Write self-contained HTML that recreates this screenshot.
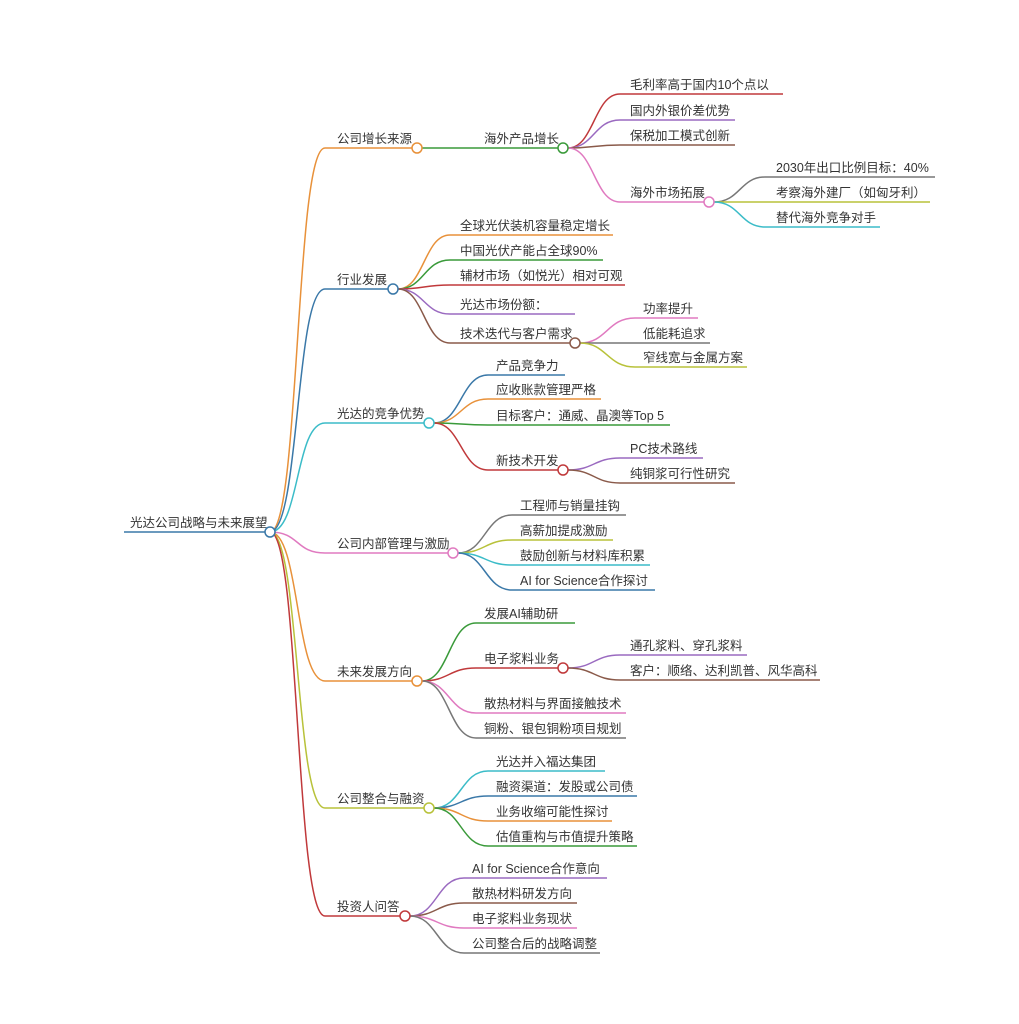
<!DOCTYPE html>
<html><head><meta charset="utf-8"><style>
html,body{margin:0;padding:0;background:#fff;}
svg{display:block;}
text{font-family:"Liberation Sans","Noto Sans CJK SC",sans-serif;font-size:12.5px;fill:#333;}
path{fill:none;stroke-width:1.5;}
circle{fill:#fff;stroke-width:1.5;}
</style></head><body>
<svg width="1019" height="1024" viewBox="0 0 1019 1024">
<!-- root -->
<path d="M124,532 H265" stroke="#3a78a8"/>
<text x="130" y="527">光达公司战略与未来展望</text>

<!-- level 1 edges -->
<path d="M270,532 C300,532 295,148 325,148 H412" stroke="#e8913a"/>
<path d="M270,532 C300,532 295,289 325,289 H388" stroke="#3a78a8"/>
<path d="M270,532 C300,532 295,423 325,423 H424" stroke="#3bbcc8"/>
<path d="M270,532 C300,532 295,553 325,553 H448" stroke="#e07ac0"/>
<path d="M270,532 C300,532 295,681 325,681 H412" stroke="#e8913a"/>
<path d="M270,532 C300,532 295,808 325,808 H424" stroke="#b8c23a"/>
<path d="M270,532 C300,532 295,916 325,916 H400" stroke="#c0393b"/>
<text x="337" y="143">公司增长来源</text>
<text x="337" y="284">行业发展</text>
<text x="337" y="418">光达的竞争优势</text>
<text x="337" y="548">公司内部管理与激励</text>
<text x="337" y="676">未来发展方向</text>
<text x="337" y="803">公司整合与融资</text>
<text x="337" y="911">投资人问答</text>

<!-- 公司增长来源 -->
<path d="M422,148 H558" stroke="#3a9a3a"/>
<text x="484" y="143">海外产品增长</text>
<path d="M568,148 C594,148 594,94 620,94 H783" stroke="#c0393b"/>
<path d="M568,148 C594,148 594,120 620,120 H735" stroke="#9a6ac0"/>
<path d="M568,148 C594,148 594,145 620,145 H735" stroke="#8a5a4a"/>
<path d="M568,148 C594,148 594,202 620,202 H704" stroke="#e07ac0"/>
<text x="630" y="89">毛利率高于国内10个点以</text>
<text x="630" y="115">国内外银价差优势</text>
<text x="630" y="140">保税加工模式创新</text>
<text x="630" y="197">海外市场拓展</text>
<path d="M714,202 C740,202 740,177 765,177 H935" stroke="#777"/>
<path d="M714,202 C740,202 740,202 765,202 H930" stroke="#b8c23a"/>
<path d="M714,202 C740,202 740,227 765,227 H880" stroke="#3bbcc8"/>
<text x="776" y="172">2030年出口比例目标：40%</text>
<text x="776" y="197">考察海外建厂（如匈牙利）</text>
<text x="776" y="222">替代海外竞争对手</text>

<!-- 行业发展 -->
<path d="M398,289 C424,289 424,235 450,235 H613" stroke="#e8913a"/>
<path d="M398,289 C424,289 424,260 450,260 H603" stroke="#3a9a3a"/>
<path d="M398,289 C424,289 424,285 450,285 H625" stroke="#c0393b"/>
<path d="M398,289 C424,289 424,314 450,314 H575" stroke="#9a6ac0"/>
<path d="M398,289 C424,289 424,343 450,343 H570" stroke="#8a5a4a"/>
<text x="460" y="230">全球光伏装机容量稳定增长</text>
<text x="460" y="255">中国光伏产能占全球90%</text>
<text x="460" y="280">辅材市场（如悦光）相对可观</text>
<text x="460" y="309">光达市场份额：</text>
<text x="460" y="338">技术迭代与客户需求</text>
<path d="M580,343 C607,343 607,318 635,318 H698" stroke="#e07ac0"/>
<path d="M580,343 C607,343 607,343 635,343 H710" stroke="#777"/>
<path d="M580,343 C607,343 607,367 635,367 H747" stroke="#b8c23a"/>
<text x="643" y="313">功率提升</text>
<text x="643" y="338">低能耗追求</text>
<text x="643" y="362">窄线宽与金属方案</text>

<!-- 光达的竞争优势 -->
<path d="M434,423 C461,423 461,375 488,375 H565" stroke="#3a78a8"/>
<path d="M434,423 C461,423 461,399 488,399 H601" stroke="#e8913a"/>
<path d="M434,423 C461,423 461,425 488,425 H670" stroke="#3a9a3a"/>
<path d="M434,423 C461,423 461,470 488,470 H558" stroke="#c0393b"/>
<text x="496" y="370">产品竞争力</text>
<text x="496" y="394">应收账款管理严格</text>
<text x="496" y="420">目标客户：通威、晶澳等Top 5</text>
<text x="496" y="465">新技术开发</text>
<path d="M568,470 C594,470 594,458 620,458 H703" stroke="#9a6ac0"/>
<path d="M568,470 C594,470 594,483 620,483 H735" stroke="#8a5a4a"/>
<text x="630" y="453">PC技术路线</text>
<text x="630" y="478">纯铜浆可行性研究</text>

<!-- 公司内部管理与激励 -->
<path d="M458,553 C485,553 485,515 512,515 H626" stroke="#777"/>
<path d="M458,553 C485,553 485,540 512,540 H613" stroke="#b8c23a"/>
<path d="M458,553 C485,553 485,565 512,565 H650" stroke="#3bbcc8"/>
<path d="M458,553 C485,553 485,590 512,590 H655" stroke="#3a78a8"/>
<text x="520" y="510">工程师与销量挂钩</text>
<text x="520" y="535">高薪加提成激励</text>
<text x="520" y="560">鼓励创新与材料库积累</text>
<text x="520" y="585">AI for Science合作探讨</text>

<!-- 未来发展方向 -->
<path d="M422,681 C449,681 449,623 476,623 H575" stroke="#3a9a3a"/>
<path d="M422,681 C449,681 449,668 476,668 H558" stroke="#c0393b"/>
<path d="M422,681 C449,681 449,713 476,713 H626" stroke="#e07ac0"/>
<path d="M422,681 C449,681 449,738 476,738 H626" stroke="#777"/>
<text x="484" y="618">发展AI辅助研</text>
<text x="484" y="663">电子浆料业务</text>
<text x="484" y="708">散热材料与界面接触技术</text>
<text x="484" y="733">铜粉、银包铜粉项目规划</text>
<path d="M568,668 C594,668 594,655 620,655 H747" stroke="#9a6ac0"/>
<path d="M568,668 C594,668 594,680 620,680 H820" stroke="#8a5a4a"/>
<text x="630" y="650">通孔浆料、穿孔浆料</text>
<text x="630" y="675">客户：顺络、达利凯普、风华高科</text>

<!-- 公司整合与融资 -->
<path d="M434,808 C461,808 461,771 488,771 H605" stroke="#3bbcc8"/>
<path d="M434,808 C461,808 461,796 488,796 H637" stroke="#3a78a8"/>
<path d="M434,808 C461,808 461,821 488,821 H612" stroke="#e8913a"/>
<path d="M434,808 C461,808 461,846 488,846 H637" stroke="#3a9a3a"/>
<text x="496" y="766">光达并入福达集团</text>
<text x="496" y="791">融资渠道：发股或公司债</text>
<text x="496" y="816">业务收缩可能性探讨</text>
<text x="496" y="841">估值重构与市值提升策略</text>

<!-- 投资人问答 -->
<path d="M410,916 C437,916 437,878 464,878 H607" stroke="#9a6ac0"/>
<path d="M410,916 C437,916 437,903 464,903 H577" stroke="#8a5a4a"/>
<path d="M410,916 C437,916 437,928 464,928 H577" stroke="#e07ac0"/>
<path d="M410,916 C437,916 437,953 464,953 H600" stroke="#777"/>
<text x="472" y="873">AI for Science合作意向</text>
<text x="472" y="898">散热材料研发方向</text>
<text x="472" y="923">电子浆料业务现状</text>
<text x="472" y="948">公司整合后的战略调整</text>

<!-- circles -->
<circle cx="270" cy="532" r="5" stroke="#3a78a8"/>
<circle cx="417" cy="148" r="5" stroke="#e8913a"/>
<circle cx="393" cy="289" r="5" stroke="#3a78a8"/>
<circle cx="429" cy="423" r="5" stroke="#3bbcc8"/>
<circle cx="453" cy="553" r="5" stroke="#e07ac0"/>
<circle cx="417" cy="681" r="5" stroke="#e8913a"/>
<circle cx="429" cy="808" r="5" stroke="#b8c23a"/>
<circle cx="405" cy="916" r="5" stroke="#c0393b"/>
<circle cx="563" cy="148" r="5" stroke="#3a9a3a"/>
<circle cx="709" cy="202" r="5" stroke="#e07ac0"/>
<circle cx="575" cy="343" r="5" stroke="#8a5a4a"/>
<circle cx="563" cy="470" r="5" stroke="#c0393b"/>
<circle cx="563" cy="668" r="5" stroke="#c0393b"/>
</svg>
</body></html>
